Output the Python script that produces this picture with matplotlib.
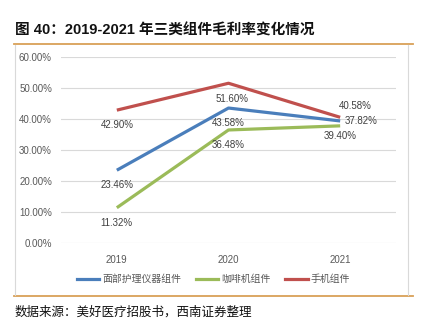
import matplotlib
matplotlib.use('Agg')
import matplotlib.pyplot as plt
from matplotlib.lines import Line2D

plt.rcParams['font.family'] = ['Liberation Sans', 'Noto Sans CJK SC', 'DejaVu Sans']

years = ['2019', '2020', '2021']
series_names = ['面部护理仪器组件', '咖啡机组件', '手机组件']
facial = [23.46, 43.58, 39.40]
coffee = [11.32, 36.48, 37.82]
phone = [42.90, 51.60, 40.58]
colors = ['#4a7ebb', '#9bbb59', '#c0504d']

# label offsets in pixels for each point (dx, dy, ha)
offsets = [
    [(0, -15, 'center'), (0, -15, 'center'), (0, -15, 'center')],
    [(0, -15, 'center'), (0, -15, 'center'), (5, 5, 'left')],
    [(0, -15, 'center'), (4, -16, 'center'), (15, 11, 'center')],
]

fig = plt.figure(figsize=(4.28, 3.29), dpi=100)

# title and rules
fig.text(15 / 428, 1 - 30 / 329, '图 40：2019-2021 年三类组件毛利率变化情况',
         fontsize=10.5, fontweight='bold', color='#111111', va='center', ha='left')
fig.add_artist(Line2D([14 / 428, 413 / 428], [1 - 43.5 / 329] * 2, color='#d9a057', lw=1.3))
fig.add_artist(Line2D([14 / 428, 413 / 428], [1 - 296 / 329] * 2, color='#d9a057', lw=1.3))
# chart border
fig.add_artist(Line2D([15.5 / 428, 15.5 / 428], [1 - 45 / 329, 1 - 295 / 329], color='#d9d9d9', lw=0.8))
fig.add_artist(Line2D([408 / 428, 408 / 428], [1 - 45 / 329, 1 - 295 / 329], color='#d9d9d9', lw=0.8))

fig.text(15 / 428, 1 - 312 / 329, '数据来源：美好医疗招股书，西南证券整理',
         fontsize=9, color='#111111', va='center', ha='left', style='italic',
         family=['Noto Sans CJK SC'])

ax = fig.add_axes([61 / 428, 1 - 242.7 / 329, 335 / 428, 185.4 / 329])
x = range(len(years))
for vals, col, offs in zip([facial, coffee, phone], colors, offsets):
    ax.plot(x, [v / 100 for v in vals], color=col, lw=2.3, solid_capstyle='butt')
    for xi, v, (dx, dy, ha) in zip(x, vals, offs):
        ax.annotate(f'{v:.2f}%', (xi, v / 100), xytext=(dx, dy), textcoords='offset pixels',
                    ha=ha, va='center', fontsize=7, color='#404040')

ax.set_xlim(-0.5, 2.5)
ax.set_ylim(0, 0.6)
ax.set_yticks([i / 10 for i in range(7)])
ax.set_yticklabels([f'{i * 10:.2f}%' for i in range(7)])
ax.set_xticks(list(x))
ax.set_xticklabels(years)
ax.tick_params(length=0, labelsize=7, colors='#595959')
ax.tick_params(axis='y', pad=6.5)
ax.tick_params(axis='x', pad=9)
ax.grid(axis='y', color='#d9d9d9', lw=0.8)
ax.set_axisbelow(True)
for s in ax.spines.values():
    s.set_visible(False)

handles = [Line2D([], [], color=c, lw=2.3) for c in colors]
fig.legend(handles, series_names, loc='center', bbox_to_anchor=(213.5 / 428, 1 - 279 / 329),
           ncol=3, frameon=False, fontsize=7.1, labelcolor='#595959',
           handlelength=2.3, handletextpad=0.3, columnspacing=1.45,
           borderpad=0, borderaxespad=0)

fig.savefig('out.png', dpi=100)
